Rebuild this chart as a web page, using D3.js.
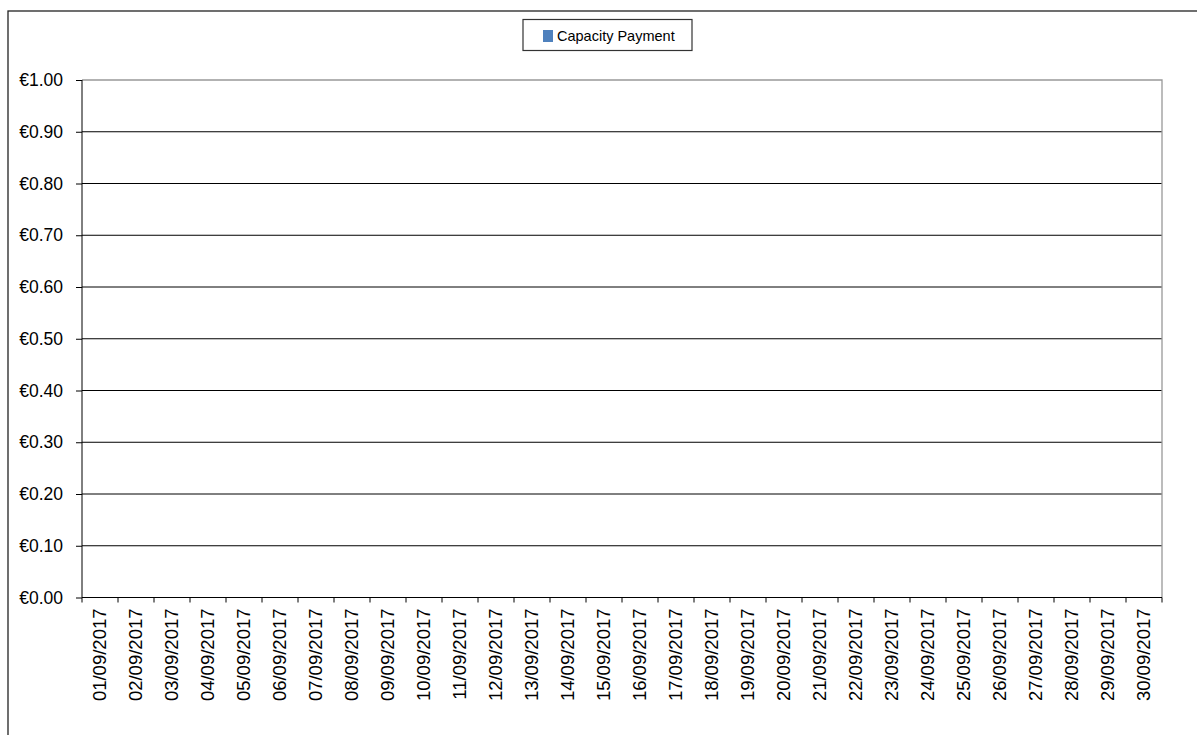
<!DOCTYPE html>
<html><head><meta charset="utf-8">
<script src="https://cdn.jsdelivr.net/npm/d3@7"></script>
<style>body{margin:0;background:#fff;}svg{display:block;}</style>
</head><body>
<script>
const categories = ["01/09/2017","02/09/2017","03/09/2017","04/09/2017","05/09/2017","06/09/2017","07/09/2017","08/09/2017","09/09/2017","10/09/2017","11/09/2017","12/09/2017","13/09/2017","14/09/2017","15/09/2017","16/09/2017","17/09/2017","18/09/2017","19/09/2017","20/09/2017","21/09/2017","22/09/2017","23/09/2017","24/09/2017","25/09/2017","26/09/2017","27/09/2017","28/09/2017","29/09/2017","30/09/2017"];
const capacityPayment = [0,0,0,0,0,0,0,0,0,0,0,0,0,0,0,0,0,0,0,0,0,0,0,0,0,0,0,0,0,0];
const yTicks = [0,0.1,0.2,0.3,0.4,0.5,0.6,0.7,0.8,0.9,1.0];
const seriesName = "Capacity Payment";

const W = 1197, H = 735;
const font = "'Liberation Sans', Arial, sans-serif";
const svg = d3.select("body").append("svg").attr("width", W).attr("height", H);

// outer chart border (left & top visible)
svg.append("rect").attr("x", 8).attr("y", 11).attr("width", 1400).attr("height", 1000)
  .attr("fill", "none").attr("stroke", "#222").attr("stroke-width", 1.3);

const L = 82, R = 1162, T = 80, B = 597.5;
const x = d3.scaleBand().domain(categories).range([L, R]).padding(0);
const y = d3.scaleLinear().domain([0, 1]).range([B, T]);

// gridlines
svg.append("g").selectAll("line").data(yTicks.filter(d => d > 0 && d < 1)).join("line")
  .attr("x1", L).attr("x2", R).attr("y1", d => y(d)).attr("y2", d => y(d))
  .attr("stroke", "#000").attr("stroke-width", 1);

// plot border top/right gray
svg.append("path").attr("d", `M${L},${y(1)}H${R}V${B}`).attr("fill", "none")
  .attr("stroke", "#999").attr("stroke-width", 1.3);

// bars (zero)
svg.append("g").selectAll("rect").data(capacityPayment).join("rect")
  .attr("x", (d, i) => x(categories[i]) + x.bandwidth() * 0.25)
  .attr("width", x.bandwidth() * 0.5)
  .attr("y", d => y(d)).attr("height", d => B - y(d))
  .attr("fill", "#4F81BD");

// y axis
const yAxis = d3.axisLeft(y).tickValues(yTicks).tickSize(6).tickPadding(13)
  .tickFormat(d => "€" + d3.format(".2f")(d));
const gy = svg.append("g").attr("transform", `translate(${L},0)`).call(yAxis);
gy.select(".domain").attr("stroke", "#000").attr("d", `M0,${B}V${T}`);
gy.selectAll(".tick line").attr("stroke", "#000");
gy.selectAll("text").attr("font-family", font).attr("font-size", 17.5).attr("fill", "#000");

// x axis
const gx = svg.append("g").attr("transform", `translate(0,${B})`)
  .call(d3.axisBottom(x).tickSize(0).tickFormat(d => d));
gx.select(".domain").attr("stroke", "#000").attr("d", `M${L},0H${R}`);
gx.selectAll(".tick text").attr("font-family", font).attr("font-size", 18.5).attr("fill", "#000")
  .attr("transform", "rotate(-90)").attr("text-anchor", "end").attr("dx", "-11").attr("dy", "0.35em").attr("x", 0).attr("y", 0);
// boundary ticks
gx.append("g").selectAll("line").data(d3.range(categories.length + 1)).join("line")
  .attr("x1", i => L + i * x.bandwidth()).attr("x2", i => L + i * x.bandwidth())
  .attr("y1", 0).attr("y2", 5).attr("stroke", "#000");

// legend
const lg = svg.append("g");
lg.append("rect").attr("x", 523).attr("y", 19.5).attr("width", 169).attr("height", 31)
  .attr("fill", "#fff").attr("stroke", "#333").attr("stroke-width", 1.2);
lg.append("rect").attr("x", 543).attr("y", 30).attr("width", 10).attr("height", 12).attr("fill", "#4F81BD");
lg.append("text").attr("x", 557).attr("y", 41).attr("font-family", font).attr("font-size", 14.5)
  .attr("fill", "#000").text(seriesName);
</script>
</body></html>
